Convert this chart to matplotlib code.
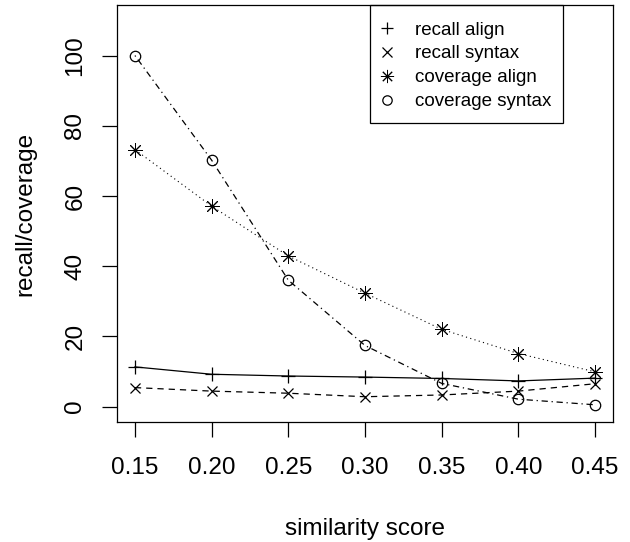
import matplotlib
matplotlib.use("Agg")
import matplotlib.pyplot as plt
from matplotlib.lines import Line2D
from matplotlib.patches import Rectangle

plt.rcParams['font.family'] = ['Liberation Sans', 'DejaVu Sans']

similarity = [0.15, 0.20, 0.25, 0.30, 0.35, 0.40, 0.45]
recall_align = [11.3, 9.2, 8.7, 8.4, 8.0, 7.3, 8.1]
recall_syntax = [5.4, 4.4, 3.8, 2.8, 3.3, 4.4, 6.5]
coverage_align = [73.2, 57.1, 42.9, 32.3, 22.0, 15.1, 9.9]
coverage_syntax = [100.0, 70.2, 36.0, 17.4, 6.6, 2.1, 0.5]
labels = ["recall align", "recall syntax", "coverage align", "coverage syntax"]
xticks = [0.15, 0.20, 0.25, 0.30, 0.35, 0.40, 0.45]
yticks = [0, 20, 40, 60, 80, 100]

fig = plt.figure(figsize=(6.3, 5.42), dpi=100)
ax = fig.add_axes([0.1857, 0.2214, 0.973 - 0.1857, 0.9908 - 0.2214])

asterisk = (8, 2, 0)
series = [
    (recall_align, '+', '-', 10, 0.9),
    (recall_syntax, 'x', (0, (5, 4)), 7.5, 0.9),
    (coverage_align, asterisk, (0, (1, 3)), 10.5, 0.8),
    (coverage_syntax, 'o', (0, (1, 3, 5, 3)), 7.5, 0.9),
]
for vals, m, ls, ms, lw in series:
    ax.plot(similarity, vals, color='black', linestyle=ls, linewidth=lw,
            marker=m, markersize=ms, markerfacecolor='none',
            markeredgecolor='black',
            markeredgewidth=0.7 if m == asterisk else 0.9)

ax.set_xlim(0.1383, 0.4617)
ax.set_ylim(-4.4, 114.4)
ax.set_xticks(xticks)
ax.set_xticklabels([f"{v:.2f}" for v in xticks])
ax.set_yticks(yticks)
ax.set_yticklabels([str(v) for v in yticks], rotation=90, va='center')
ax.tick_params(direction='out', length=11, width=0.9, labelsize=17.5)
ax.tick_params(axis='x', pad=14)
ax.tick_params(axis='y', pad=11)
for s in ax.spines.values():
    s.set_linewidth(0.9)

ax.set_xlabel("similarity score", fontsize=17.5, labelpad=28)
ax.set_ylabel("recall/coverage", fontsize=17.5, labelpad=20)

handles = [Line2D([], [], color='black', linestyle='none', marker=m,
                  markersize=ms * 0.9, markerfacecolor='none',
                  markeredgewidth=0.7 if m == asterisk else 0.9)
           for _, m, _, ms, _ in series]
leg = ax.legend(handles, labels, loc='upper left', bbox_to_anchor=(0.510, 1.0),
                bbox_transform=ax.transAxes, frameon=False, fontsize=13.5,
                handlelength=0.1, handletextpad=1.4, borderpad=0.88,
                labelspacing=0.36, borderaxespad=0)
ax.add_patch(Rectangle((0.510, 0.717), 0.899 - 0.510, 1.0 - 0.717,
                       transform=ax.transAxes, fill=False, edgecolor='black',
                       linewidth=0.9, zorder=5, clip_on=False))

fig.savefig("out.png", dpi=100)
